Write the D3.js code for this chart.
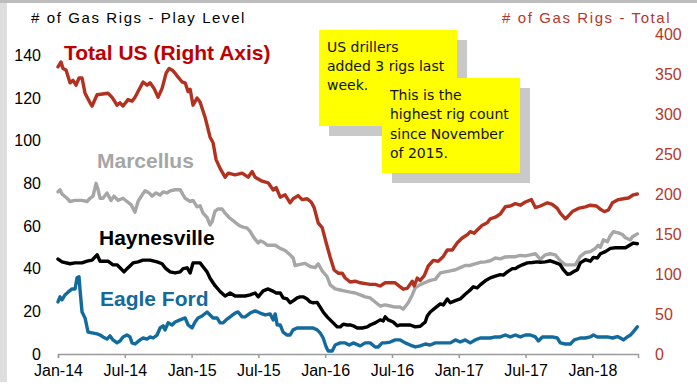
<!DOCTYPE html>
<html>
<head>
<meta charset="utf-8">
<script src="https://cdn.jsdelivr.net/npm/d3@7"></script>
<style>
  html, body { margin: 0; padding: 0; background: #fff; }
  svg { display: block; font-family: "Liberation Sans", Arial, sans-serif; }
</style>
</head>
<body>
<svg id="chart" width="697" height="386"></svg>
<script>
// Weekly gas rig counts, x = months since Jan-2014
const totalUS = [
  [0,359],[0.27,365],[0.45,357],[0.72,355],[1.08,339],[1.35,342],[1.62,336],[1.89,345],[2.16,345],[2.43,326],
  [2.88,314],[3.06,310],[3.51,324],[4.49,326],[4.85,321],[5.3,311],[5.57,314],[5.84,310],[6.29,318],[6.65,316],
  [6.92,321],[7.64,340],[8.0,336],[8.27,339],[8.63,332],[8.99,321],[9.35,332],[9.71,351],[9.98,357],[10.25,355],
  [10.52,351],[10.79,346],[11.15,340],[11.42,339],[11.69,328],[11.87,331],[12.13,311],[12.49,320],[12.76,315],
  [13.21,296],[13.66,271],[13.93,264],[14.2,243],[14.56,232],[15.01,221],[15.28,226],[15.91,224],[16.54,226],
  [17.08,221],[17.44,228],[17.71,221],[18.34,216],[18.88,214],[19.33,205],[19.6,208],[19.96,196],[20.4,199],
  [20.85,189],[21.12,194],[21.57,198],[21.93,193],[22.38,194],[22.74,190],[23.01,183],[23.37,164],[23.73,158],
  [24.09,139],[24.45,121],[24.81,105],[25.17,101],[25.53,101],[25.8,95],[26.25,90],[26.7,91],[27.15,89],
  [27.6,88],[28.04,87],[28.49,87],[28.94,85],[29.39,89],[29.84,89],[30.29,89],[30.74,84],[31.01,81],[31.37,82],
  [31.82,91],[32.0,85],[32.27,95],[32.54,92],[32.9,98],[33.26,110],[33.71,117],[34.16,116],[34.61,122],
  [34.97,130],[35.42,130],[35.87,139],[36.31,145],[36.76,149],[37.03,153],[37.39,151],[37.66,155],[38.11,161],
  [38.56,164],[38.83,169],[39.28,171],[39.73,175],[40.18,184],[40.63,185],[41.08,188],[41.53,186],[41.98,190],
  [42.52,193],[42.88,183],[43.33,185],[43.96,189],[44.4,187],[44.85,182],[45.12,176],[45.57,169],[45.75,171],
  [46.2,178],[46.74,182],[47.37,184],[47.82,186],[48.36,185],[48.72,181],[49.08,178],[49.44,180],[49.8,189],
  [50.34,193],[50.79,194],[51.24,195],[51.69,199],[52.04,200]
];

const marcellus = [
  [0,76],[0.18,77],[0.36,75],[0.81,73],[1.08,71.5],[1.53,72],[2.16,72],[2.61,71.5],[2.88,73],[3.15,74],
  [3.42,80],[3.6,77],[3.78,73],[4.04,73],[4.4,75.5],[4.76,72],[5.03,74],[5.39,72],[5.84,73],[6.2,71.5],
  [6.56,70],[6.92,66.5],[7.19,71.5],[7.55,74.5],[7.82,76.5],[8.18,75.5],[8.45,74],[8.81,75.5],[9.17,74.5],
  [9.44,76],[9.8,75.5],[10.07,76.5],[10.52,77],[10.97,77],[11.42,73],[11.87,71.5],[12.13,72],[12.49,69],
  [12.76,69.5],[13.03,66],[13.39,64],[13.66,60.5],[13.84,62],[14.11,67],[14.38,68],[14.74,68],[15.01,66],
  [15.37,64],[15.73,62.5],[16.09,61],[16.36,60],[16.63,59.5],[16.99,59],[17.26,57.5],[17.53,55],[17.98,52],
  [18.16,53],[18.43,52.5],[18.79,51],[19.06,51],[19.51,51],[19.96,49.5],[20.4,48.5],[20.85,46.5],[21.12,45],
  [21.3,41.5],[21.75,42],[22.2,42.5],[22.65,41],[23.1,40.5],[23.37,42.3],[23.73,39],[24.18,36.2],[24.45,32.4],
  [24.9,30.5],[25.35,30],[25.8,29.5],[26.25,29],[26.7,28.6],[27.15,27.7],[27.6,26.8],[28.04,26.3],[28.49,24.4],
  [28.94,22.5],[29.39,23],[29.84,22.5],[30.29,22],[30.74,22],[31.01,21],[31.46,24],[31.82,27.7],[32.09,31],
  [32.54,32.5],[32.99,33.5],[33.44,34.5],[33.89,35],[34.34,38],[34.79,38.5],[35.24,39],[35.69,39.5],[36.13,40.5],
  [36.58,41.5],[37.03,41.5],[37.3,42],[37.93,43],[38.38,43.2],[38.83,43.7],[39.28,45],[39.73,44.6],[40.18,45.5],
  [40.63,45.6],[41.08,45.6],[41.53,46.2],[41.98,46],[42.43,46.5],[42.88,47],[43.33,44.4],[43.78,46.5],[44.22,47],
  [44.67,46.5],[45.12,43.7],[45.57,41.8],[46.02,41.8],[46.47,41.8],[46.92,45.8],[47.37,47.6],[47.82,48],
  [48.27,49.5],[48.54,51],[48.72,50],[48.99,53.5],[49.35,52.6],[49.62,55.5],[49.89,57.3],[50.34,56.8],
  [50.7,56],[50.97,54.5],[51.42,53.5],[51.6,55],[52.04,56.3]
];

const haynesville = [
  [0,44.5],[0.36,43.2],[1.08,42.3],[1.53,42.7],[2.16,42.7],[2.61,43.5],[3.06,44],[3.51,46.5],[3.78,43.5],
  [4.49,43.5],[4.94,41.8],[5.3,41.8],[5.57,40.4],[5.93,38.5],[6.2,40],[6.74,42.7],[7.19,43.2],[7.64,44],
  [8.27,44],[8.9,43.2],[9.35,42.3],[9.62,40.4],[10.07,38.5],[10.52,38],[10.97,38.5],[11.24,40],[11.6,40.4],
  [11.87,38],[12.13,42.7],[12.49,42.7],[12.76,42.7],[13.03,40.9],[13.39,38.5],[13.66,35.5],[14.11,32],
  [14.56,29.3],[15.01,27.2],[15.46,28.6],[15.91,27.2],[16.36,27.2],[16.81,27.2],[17.26,27.7],[17.71,28.6],
  [17.98,26.8],[18.43,29.6],[18.88,30.5],[19.24,29.6],[19.6,28.6],[19.96,28.6],[20.22,26.3],[20.58,25.8],
  [20.85,24],[21.12,24.9],[21.48,26.3],[21.75,26.8],[22.02,26.8],[22.38,25.8],[22.65,24.4],[22.92,24],
  [23.28,24.2],[23.55,22],[23.82,19.7],[24.18,17.4],[24.45,16],[24.72,14.6],[25.08,12.7],[25.35,12.7],
  [25.62,14],[25.98,13.6],[26.25,13.6],[26.52,13.2],[26.88,12.2],[27.33,12.2],[27.78,12.7],[28.04,13.6],
  [28.49,14.6],[28.94,16],[29.21,15.5],[29.39,17.4],[29.66,16],[30.11,15],[30.47,13.2],[30.74,13.6],
  [31.19,13.6],[31.64,13.6],[32.09,12.7],[32.54,13],[32.99,15],[33.17,17.8],[33.44,19.7],[33.89,21.6],
  [34.34,23.5],[34.61,23],[34.97,25.8],[35.24,24],[35.69,25],[36.13,25.8],[36.58,28],[37.03,30],[37.3,31.5],
  [37.66,31],[37.93,32.4],[38.38,34.3],[38.83,35.7],[39.28,36.5],[39.73,37.2],[40.0,37],[40.36,38.5],
  [40.81,40],[41.08,40],[41.35,40.9],[41.71,41.8],[42.16,42.7],[42.61,42.9],[43.06,43.2],[43.33,43],
  [43.78,43.2],[44.22,43.7],[44.49,43.2],[44.85,42.5],[45.12,41.8],[45.39,39.5],[45.75,37.4],[46.02,37.6],
  [46.29,38.5],[46.65,39.5],[46.92,42.7],[47.37,44.2],[47.82,43.5],[48.09,45.3],[48.45,45],[48.72,47],
  [49.17,48],[49.62,49.5],[50.07,49.8],[50.52,49.8],[50.97,49.8],[51.42,51.2],[51.69,52],[52.04,51.7]
];

const eagleFord = [
  [0,24.4],[0.18,26.8],[0.36,25.4],[0.63,27.7],[0.9,29],[1.26,30.5],[1.53,30.5],[1.71,35.7],[1.89,36.2],
  [1.98,30],[2.16,19.7],[2.43,16.9],[2.7,10.3],[3.06,9.9],[3.51,9.4],[3.78,8.9],[4.04,8],[4.4,7],[4.67,8.5],
  [4.94,6.6],[5.3,5.2],[5.57,6.1],[5.84,8],[6.2,8.9],[6.47,8],[6.65,5.2],[6.92,4.7],[7.37,6.6],[7.64,7.5],
  [8.0,7],[8.27,8],[8.54,7.5],[8.9,8.9],[9.17,12.2],[9.44,13.2],[9.62,11.3],[9.89,14.6],[10.25,13.6],
  [10.52,15],[10.97,16],[11.42,16.9],[11.69,13.6],[12.04,12.2],[12.31,15],[12.58,16.9],[12.94,17.8],
  [13.39,19.7],[13.66,18.3],[13.93,16.9],[14.29,16.9],[14.56,14.6],[14.83,14.6],[15.19,16.4],[15.46,17.4],
  [15.91,19.2],[16.18,19.7],[16.54,17.4],[16.81,17.4],[17.26,19.2],[17.71,20.2],[18.16,19.2],[18.61,18.3],
  [19.06,18.8],[19.33,16],[19.51,18.8],[19.69,13.6],[19.96,13.6],[20.22,10.3],[20.58,8.9],[20.85,8.9],
  [21.12,11.3],[21.48,12.2],[22.2,12.2],[22.92,12.2],[23.28,11.3],[23.55,9.9],[23.82,7.5],[24.09,3.3],
  [24.27,1.4],[24.63,1.4],[24.9,4.2],[25.35,5.2],[25.8,5.2],[26.16,4.2],[26.52,5.2],[27.15,3.8],[27.6,5.2],
  [28.04,5.2],[28.49,3.3],[28.76,3.3],[29.12,5.2],[29.39,5.2],[29.84,5.6],[30.29,6.6],[30.74,6.6],[31.19,5.2],
  [31.64,4.2],[32.09,3.3],[32.54,3.8],[32.99,4.7],[33.44,4.2],[33.89,5.2],[34.34,5.2],[34.79,5.2],[35.24,5.2],
  [35.69,6.6],[36.13,5.6],[36.58,6.6],[37.03,5.2],[37.48,6.6],[37.93,7.5],[38.38,7.5],[38.83,7.5],[39.28,8],
  [39.73,8],[40.18,8.9],[40.63,8],[41.08,8.9],[41.53,8],[41.98,8.9],[42.43,8.9],[42.88,8],[43.15,6.1],
  [43.51,8],[43.96,8],[44.4,8],[44.85,7.5],[45.12,5.2],[45.57,4.7],[46.02,4.7],[46.38,6.6],[46.92,7.5],
  [47.37,7.5],[47.82,8],[48.09,8.9],[48.45,8],[48.9,8],[49.35,8],[49.8,7.5],[50.25,8.2],[50.52,7.5],
  [50.79,6.6],[51.15,8],[51.42,8.9],[51.69,10.5],[52.04,12.7]
];

const xTickMonths = [0, 6, 12, 18, 24, 30, 36, 42, 48];
const xTickLabels = ["Jan-14", "Jul-14", "Jan-15", "Jul-15", "Jan-16", "Jul-16", "Jan-17", "Jul-17", "Jan-18"];
const leftTicks = [0, 20, 40, 60, 80, 100, 120, 140];
const rightTicks = [0, 50, 100, 150, 200, 250, 300, 350, 400];

const noteWeek = ["US drillers", "added 3 rigs last", "week."];
const noteHigh = ["This is the", "highest rig count", "since November", "of 2015."];

// ---- layout ----
const svg = d3.select("#chart");
const plot = { left: 58, right: 638, top: 34, bottom: 354 };

const COLORS = {
  total: "#b3321f",
  totalLabel: "#c00000",
  marcellus: "#a6a6a6",
  haynesville: "#000000",
  eagle: "#136a9d",
  axisRight: "#b5372a"
};

// page frame
svg.append("rect").attr("x", 0).attr("y", 0).attr("width", 7).attr("height", 382).attr("fill", "#dedede");
svg.append("rect").attr("x", 0).attr("y", 0).attr("width", 697).attr("height", 3).attr("fill", "#bdbdbd");

const x = d3.scaleLinear().domain([0, 52.1]).range([plot.left, plot.right]);
const yL = d3.scaleLinear().domain([0, 150]).range([plot.bottom, plot.top]);
const yR = d3.scaleLinear().domain([0, 400]).range([plot.bottom, plot.top]);

// axes
const xAxis = svg.append("g")
  .attr("transform", `translate(0,${plot.bottom})`)
  .call(d3.axisBottom(x).tickValues(xTickMonths)
    .tickFormat((d, i) => xTickLabels[i]).tickSizeOuter(0).tickSize(4).tickPadding(7));
xAxis.select(".domain").attr("stroke", "#9a9a9a").attr("stroke-width", 1.5);
xAxis.selectAll(".tick line").attr("stroke", "#9a9a9a").attr("stroke-width", 1.5);
xAxis.selectAll(".tick text").attr("font-size", 16).attr("fill", "#000")
  .attr("font-family", "Liberation Sans, Arial, sans-serif");

const lAxis = svg.append("g")
  .attr("transform", `translate(${plot.left},0)`)
  .call(d3.axisLeft(yL).tickValues(leftTicks).tickSize(0).tickPadding(17));
lAxis.select(".domain").remove();
lAxis.selectAll(".tick text").attr("font-size", 16).attr("fill", "#000")
  .attr("font-family", "Liberation Sans, Arial, sans-serif");

const rAxis = svg.append("g")
  .attr("transform", `translate(${plot.right},0)`)
  .call(d3.axisRight(yR).tickValues(rightTicks).tickSize(0).tickPadding(17));
rAxis.select(".domain").remove();
rAxis.selectAll(".tick text").attr("font-size", 16).attr("fill", COLORS.axisRight)
  .attr("font-family", "Liberation Sans, Arial, sans-serif");

// axis titles
svg.append("text").attr("x", 31).attr("y", 22.5)
  .attr("font-size", 15).attr("letter-spacing", 1.6).attr("fill", "#000")
  .text("# of Gas Rigs - Play Level");
svg.append("text").attr("x", 502).attr("y", 22.5)
  .attr("font-size", 15).attr("letter-spacing", 1.6).attr("fill", COLORS.axisRight)
  .text("# of Gas Rigs - Total");

// series lines
const lineL = d3.line().x(d => x(d[0])).y(d => yL(d[1]));
const lineR = d3.line().x(d => x(d[0])).y(d => yR(d[1]));

const series = [
  { data: eagleFord, line: lineL, color: COLORS.eagle },
  { data: marcellus, line: lineL, color: COLORS.marcellus },
  { data: haynesville, line: lineL, color: COLORS.haynesville },
  { data: totalUS, line: lineR, color: COLORS.total }
];
svg.append("g").selectAll("path").data(series).join("path")
  .attr("d", s => s.line(s.data))
  .attr("fill", "none")
  .attr("stroke", s => s.color)
  .attr("stroke-width", 3.4)
  .attr("stroke-linejoin", "round")
  .attr("stroke-linecap", "round");

// series labels
const labels = [
  { text: "Total US (Right Axis)", x: 64, y: 60, color: COLORS.totalLabel },
  { text: "Marcellus", x: 97, y: 168, color: COLORS.marcellus },
  { text: "Haynesville", x: 99, y: 245, color: "#000" },
  { text: "Eagle Ford", x: 100, y: 306, color: COLORS.eagle }
];
svg.append("g").selectAll("text").data(labels).join("text")
  .attr("x", d => d.x).attr("y", d => d.y)
  .attr("font-size", 21).attr("font-weight", "bold")
  .attr("fill", d => d.color)
  .text(d => d.text);

// callout notes with drop shadows
function note(lines, bx, by, bw, bh, tx, ty0, lh) {
  const g = svg.append("g");
  g.append("rect").attr("x", bx + 10).attr("y", by + 10).attr("width", bw).attr("height", bh).attr("fill", "#c9c9c9");
  g.append("rect").attr("x", bx).attr("y", by).attr("width", bw).attr("height", bh).attr("fill", "#ffff00");
  g.selectAll("text").data(lines).join("text")
    .attr("x", tx).attr("y", (d, i) => ty0 + i * lh)
    .attr("font-family", "'DejaVu Sans', sans-serif")
    .attr("font-size", 14).attr("fill", "#111")
    .text(d => d);
}
note(noteWeek, 319, 30, 138, 96, 327, 51.5, 19.3);
note(noteHigh, 382, 78, 138, 95, 390, 100, 19.3);
</script>
</body>
</html>
